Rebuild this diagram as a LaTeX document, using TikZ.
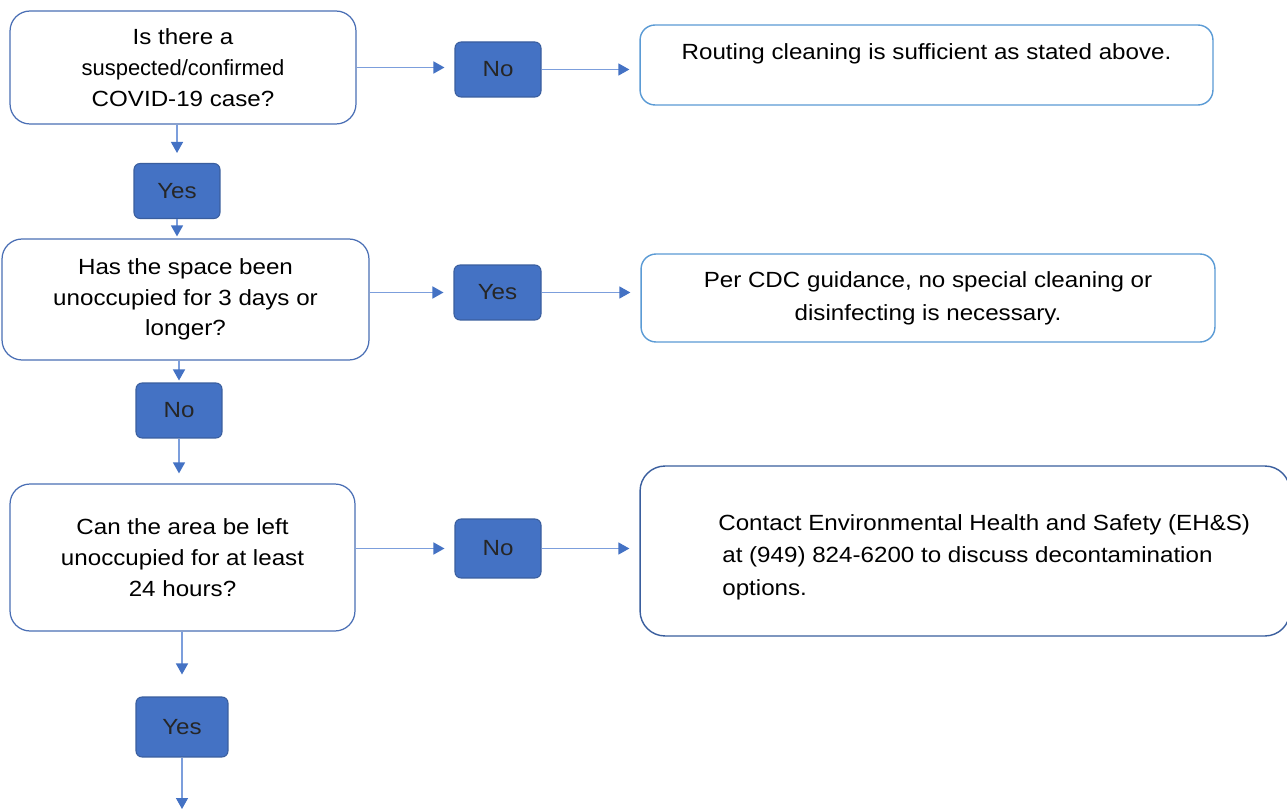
\documentclass[tikz,border=0pt]{standalone}
\usepackage{fontspec}
\setmainfont[FakeStretch=1.1]{Liberation Sans}
\usetikzlibrary{arrows.meta}
\definecolor{boxblue}{HTML}{4472C4}
\definecolor{qline}{HTML}{4A6FB5}
\definecolor{rline}{HTML}{5B9BD5}
\definecolor{aline}{HTML}{3A5E9E}
\definecolor{arrline}{HTML}{7C9EDC}
\newcommand{\flowfont}{\fontsize{12.5}{17.5}\selectfont}
\newcommand{\resfont}{\fontsize{12.5}{18.6}\selectfont}
\tikzset{
  question/.style={draw=qline, line width=0.7pt, rounded corners=0.4cm, fill=white, align=center, font=\flowfont},
  answer/.style={draw=aline, line width=0.6pt, fill=boxblue, rounded corners=0.12cm, minimum width=1.72cm, minimum height=1.1cm, text=black!85, font=\flowfont},
  result/.style={draw=rline, line width=0.8pt, rounded corners=0.3cm, fill=white, align=center, font=\resfont},
  arr/.style={-{Triangle[width=0.24cm,length=0.22cm,color=boxblue]}, draw=arrline, line width=0.8pt, shorten >=0.2cm}
}

\begin{document}
\begin{tikzpicture}[x=0.02cm, y=-0.02cm]
\useasboundingbox[fill=white] (0,0) rectangle (1287,810);

% Questions on the left
\node[question, minimum width=6.92cm, minimum height=2.26cm] (q1) at (183,67.5)
  {Is there a\\\scalebox{0.91}[1]{suspected/confirmed}\\COVID-19 case?};
\node[question, minimum width=7.34cm, minimum height=2.42cm] (q2) at (185.5,299.5)
  {Has the space been\\unoccupied for 3 days or\\longer?};
\node[question, minimum width=6.9cm, minimum height=2.94cm] (q3) at (182.5,557.5)
  {Can the area be left\\unoccupied for at least\\24 hours?};

% Answers
\node[answer] (no1) at (498,69.5) {No};
\node[answer] (yes1) at (177,191) {Yes};
\node[answer, minimum width=1.74cm] (yes2) at (497.5,292.5) {Yes};
\node[answer] (no2) at (179,410.5) {No};
\node[answer, minimum height=1.18cm] (no3) at (498,548.5) {No};
\node[answer, minimum width=1.84cm, minimum height=1.2cm] (yes3) at (182,727) {Yes};

% Results on the right
\node[result, minimum width=11.46cm, inner ysep=0pt, text height=0.7cm, text depth=0.9cm] (r1) at (926.5,65)
  {Routing cleaning is sufficient as stated above.};
\node[result, minimum width=11.48cm, minimum height=1.76cm] (r2) at (928,298)
  {Per CDC guidance, no special cleaning or\\disinfecting is necessary.};
\node[result, draw=aline, rounded corners=0.5cm, minimum width=13cm, minimum height=3.4cm] (r3) at (965,551) {};
\node[anchor=west, align=left, inner sep=0pt, font=\resfont] (r3txt) at (718,557)
  {Contact Environmental Health and Safety (EH\&S)\\
   \hspace*{0.08cm}at (949) 824-6200 to discuss decontamination\\
   \hspace*{0.08cm}options.};

% Connectors
\draw[arr] (q1.east) -- (q1.east -| no1.west);
\draw[arr] (no1.east) -- (no1.east -| r1.west);
\draw[arr] (q1.south -| yes1) -- (yes1.north);
\draw[arr, shorten >=0.04cm] (yes1.south) -- (yes1.south |- q2.north);
\draw[arr] (q2.east |- yes2) -- (yes2.west);
\draw[arr] (yes2.east) -- (yes2.east -| r2.west);
\draw[arr, shorten >=0.04cm] (q2.south -| no2) -- (no2.north);
\draw[arr] (no2.south) -- (no2.south |- q3.north);
\draw[arr] (q3.east |- no3) -- (no3.west);
\draw[arr] (no3.east) -- (no3.east -| r3.west);
\draw[arr, shorten >=0.44cm] (q3.south -| yes3) -- (yes3.north);
\coordinate (next) at (182,810);
\draw[arr, shorten >=0.02cm] (yes3.south) -- (next);
\end{tikzpicture}
\end{document}
